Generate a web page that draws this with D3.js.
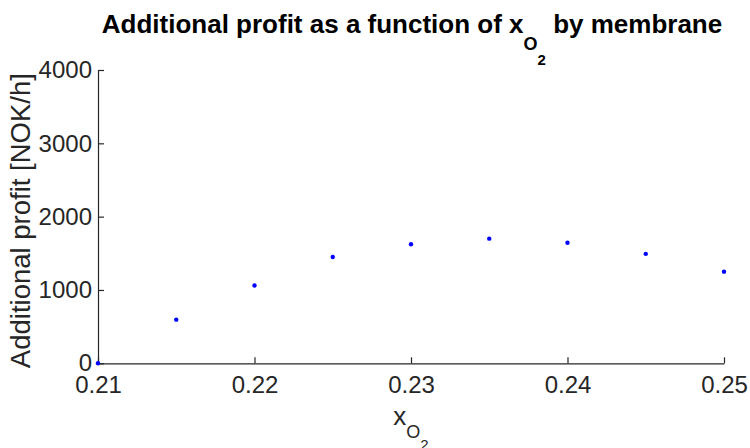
<!DOCTYPE html>
<html>
<head>
<meta charset="utf-8">
<script src="https://cdn.jsdelivr.net/npm/d3@7"></script>
<style>
  body { margin: 0; background: #fff; }
  text { font-family: "Liberation Sans", Arial, Helvetica, sans-serif; }
</style>
</head>
<body>
<div id="root"></div>
<script>
// oxygen fraction on x, additional profit on y
var xO2 = [0.21, 0.215, 0.22, 0.225, 0.23, 0.235, 0.24, 0.245, 0.25];
var profit = [0, 595, 1062, 1450, 1623, 1700, 1645, 1492, 1250];

var xTicks = [0.21, 0.22, 0.23, 0.24, 0.25];
var yTicks = [0, 1000, 2000, 3000, 4000];

var points = [];
for (let i = 0; i < xO2.length; i++) {
	points.push({"x": xO2[i], "y": profit[i]});
}

var svgWidth = 750;
var svgHeight = 448;
const margin = { top: 70, bottom: 84.7, left: 98, right: 26 };
var axisColor = "#262626";

var x = d3.scaleLinear()
	.domain([0.21, 0.25])
	.range([margin.left, svgWidth - margin.right]);
var y = d3.scaleLinear()
	.domain([0, 4000])
	.range([svgHeight - margin.bottom, margin.top]);

var svg = d3.select("#root")
	.append("svg").attr("width", svgWidth).attr("height", svgHeight);

function xAxis(g) {
	g.attr("transform", `translate(0,${y(0)})`)
		.call(d3.axisBottom(x).tickValues(xTicks).tickFormat(d3.format(".2f"))
			.tickSizeInner(-6).tickSizeOuter(0).tickPadding(13))
		.attr("font-size", "24px")
		.attr("font-family", null);
}

function yAxis(g) {
	g.attr("transform", `translate(${x(0.21)},0)`)
		.call(d3.axisLeft(y).tickValues(yTicks).tickFormat(d3.format("d"))
			.tickSizeInner(-6).tickSizeOuter(0).tickPadding(6))
		.attr("font-size", "24px")
		.attr("font-family", null);
}

svg.append("g").call(xAxis);
svg.append("g").call(yAxis);

svg.selectAll(".domain, .tick line").attr("stroke", axisColor).attr("stroke-width", 1.2);
svg.selectAll(".tick text").attr("fill", axisColor);

// data points
svg.selectAll("circle")
	.data(points)
	.enter()
	.append("circle")
	.attr("cx", d => x(d.x))
	.attr("cy", d => y(d.y))
	.attr("r", 2.2)
	.attr("fill", "#0000ff");

// title with nested subscript
var title = svg.append("text")
	.attr("x", 412)
	.attr("y", 33.3)
	.attr("text-anchor", "middle")
	.attr("font-weight", "bold")
	.attr("font-size", "26px")
	.attr("fill", "#000");
title.append("tspan").text("Additional profit as a function of x");
title.append("tspan").attr("font-size", "18px").attr("dy", 16.7).text("O");
title.append("tspan").attr("font-size", "15px").attr("dy", 15).text("2");
title.append("tspan").attr("dy", -31.7).text(" by membrane");

// x label
var xlabel = svg.append("text")
	.attr("x", (x.range()[0] + x.range()[1]) / 2)
	.attr("y", 425)
	.attr("text-anchor", "middle")
	.attr("font-size", "26px")
	.attr("fill", axisColor);
xlabel.append("tspan").text("x");
xlabel.append("tspan").attr("font-size", "18px").attr("dy", 13).text("O");
xlabel.append("tspan").attr("font-size", "15px").attr("dy", 12).text("2");

// y label
svg.append("text")
	.attr("transform", `translate(30,${(y(0) + y(4000)) / 2 + 4}) rotate(-90)`)
	.attr("text-anchor", "middle")
	.attr("font-size", "27.5px")
	.attr("fill", axisColor)
	.text("Additional profit [NOK/h]");
</script>
</body>
</html>
